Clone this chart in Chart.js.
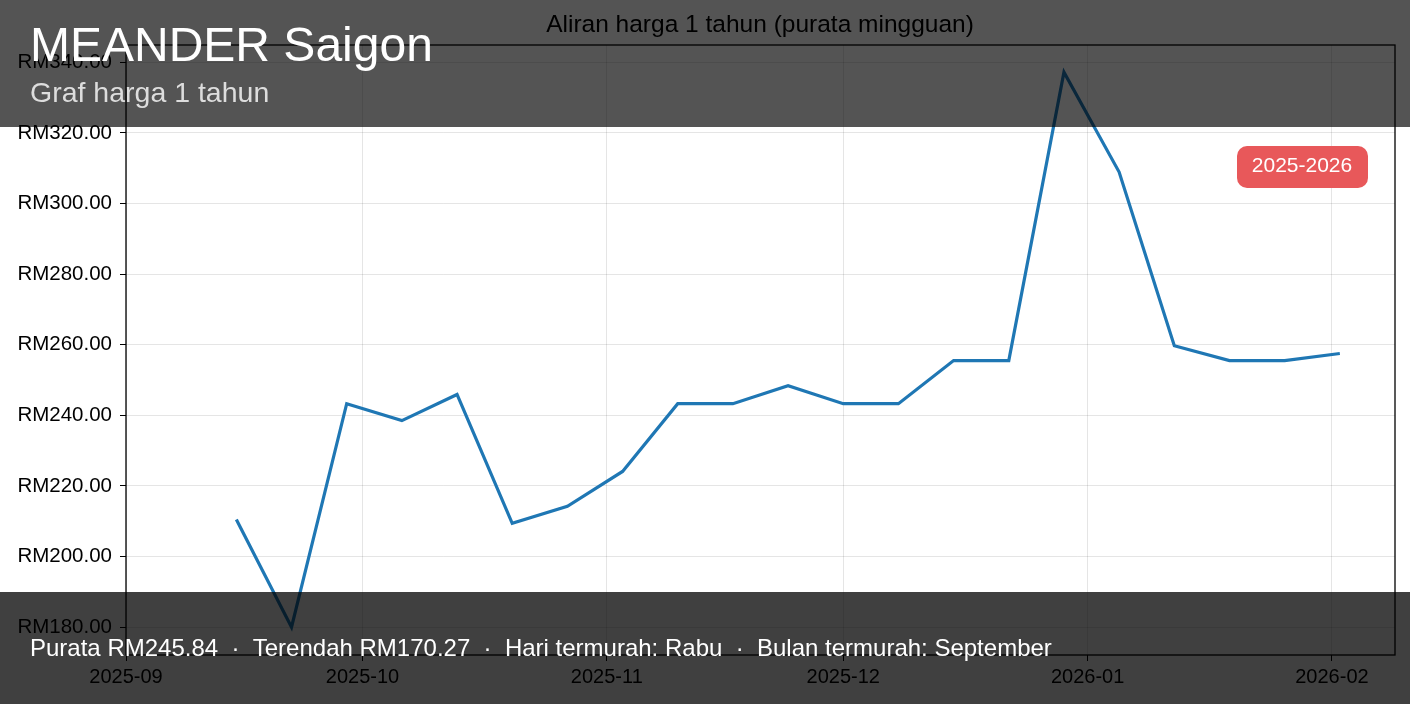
<!DOCTYPE html>
<html><head><meta charset="utf-8">
<script src="https://cdn.jsdelivr.net/npm/chart.js@4"></script>
<style>html,body{margin:0;padding:0;background:#fff}#w{width:1410px;height:704px}</style>
</head><body><div id="w"><canvas id="c"></canvas></div>
<script>
const weekDays = [14,21,28,35,42,49,56,63,70,77,84,91,98,105,112,119,126,133,140,147,154]; // days since 2025-09-01
const prices = [210.5,180,243.3,238.5,245.9,209.4,214.2,224.1,243.3,243.3,248.4,243.3,243.3,255.5,255.5,337.2,308.9,259.7,255.5,255.5,257.5];
const monthTicks = [0,30,61,91,122,153];
const monthLabels = ['2025-09','2025-10','2025-11','2025-12','2026-01','2026-02'];
const yTicks = [180,200,220,240,260,280,300,320,340];
const FONT = "'Liberation Sans', Arial, sans-serif";

const overlay = {
  id:'overlay',
  afterDraw(chart){
    const ctx = chart.ctx, a = chart.chartArea;
    ctx.save();
    ctx.strokeStyle='#000'; ctx.lineWidth=1.3;
    ctx.strokeRect(a.left, a.top, a.right-a.left, a.bottom-a.top);
    ctx.fillStyle='#000'; ctx.font='24.5px '+FONT; ctx.textAlign='center'; ctx.textBaseline='middle';
    ctx.fillText('Aliran harga 1 tahun (purata mingguan)', 760, 25);
    ctx.fillStyle='rgba(0,0,0,0.67)'; ctx.fillRect(0,0,1410,127);
    ctx.fillStyle='#fff'; ctx.textAlign='left'; ctx.font='48px '+FONT;
    ctx.fillText('MEANDER Saigon', 30, 48);
    ctx.fillStyle='#ddd'; ctx.font='28.5px '+FONT;
    ctx.fillText('Graf harga 1 tahun', 30, 94);
    ctx.fillStyle='rgba(0,0,0,0.75)'; ctx.fillRect(0,592,1410,112);
    ctx.fillStyle='#fff'; ctx.font='24px '+FONT;
    ctx.fillText('Purata RM245.84  ·  Terendah RM170.27  ·  Hari termurah: Rabu  ·  Bulan termurah: September', 30, 649);
    ctx.fillStyle='#e8585a';
    ctx.beginPath(); ctx.roundRect(1237,146,131,42,10); ctx.fill();
    ctx.fillStyle='#fff'; ctx.textAlign='center'; ctx.font='21px '+FONT;
    ctx.fillText('2025-2026', 1302, 166);
    ctx.restore();
  }
};

new Chart(document.getElementById('c'), {
  type:'line',
  data:{datasets:[{data:weekDays.map((d,i)=>({x:d,y:prices[i]})), borderColor:'#1f77b4', borderWidth:3.2, pointRadius:0, tension:0, fill:false}]},
  options:{
    responsive:true, maintainAspectRatio:false, animation:false,
    layout:{padding:{top:45,right:15,left:0,bottom:0}},
    plugins:{legend:{display:false},tooltip:{enabled:false}},
    scales:{
      x:{type:'linear', min:0, max:161,
        afterBuildTicks(s){ s.ticks = monthTicks.map(v=>({value:v})); },
        afterFit(s){ s.height=49; },
        ticks:{callback:(v)=>monthLabels[monthTicks.indexOf(v)], color:'#000', font:{family:FONT,size:20}, maxRotation:0, autoSkip:false, padding:4},
        grid:{color:'rgba(0,0,0,0.1)', tickColor:'#000', tickLength:6}, border:{display:false}},
      y:{min:172.1, max:344.9,
        afterBuildTicks(s){ s.ticks = yTicks.map(v=>({value:v})); },
        afterFit(s){ s.width=126; },
        ticks:{callback:(v)=>'RM'+v.toFixed(2), color:'#000', font:{family:FONT,size:20.5}, padding:8},
        grid:{color:'rgba(0,0,0,0.1)', tickColor:'#000', tickLength:6}, border:{display:false}}
    }
  },
  plugins:[overlay]
});
</script></body></html>
